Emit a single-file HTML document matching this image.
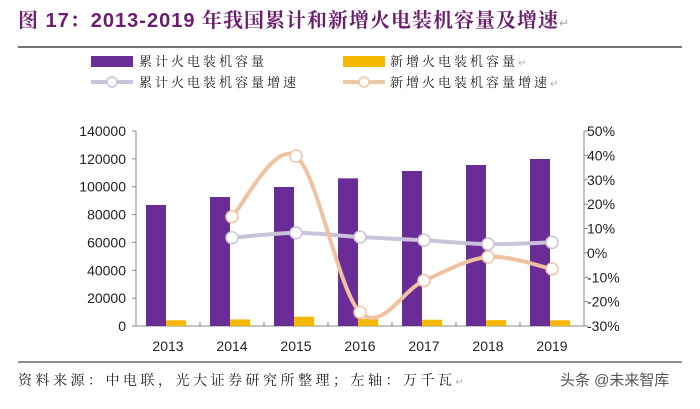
<!DOCTYPE html>
<html><head><meta charset="utf-8"><style>
html,body{margin:0;padding:0;background:#fff;}
body{width:700px;height:404px;overflow:hidden;position:relative;font-family:"Liberation Sans","Noto Sans CJK SC",sans-serif;}
</style></head><body>
<svg width="700" height="404" viewBox="0 0 700 404" xmlns="http://www.w3.org/2000/svg">
<text x="18" y="27" font-size="20" font-weight="bold" fill="#6b1f6e" letter-spacing="1" font-family="Liberation Sans,Noto Serif CJK SC,serif">图 17：2013-2019 年我国累计和新增火电装机容量及增速<tspan fill="#aaa" font-size="12" font-weight="normal">↵</tspan></text>
<line x1="18" y1="47" x2="682" y2="47" stroke="#222" stroke-width="1.2"/>
<g font-size="13" fill="#222" font-family="Noto Serif CJK SC,serif" letter-spacing="3">
<g><rect x="91" y="56" width="42" height="11" fill="#6a2c97"/><text x="139" y="66">累计火电装机容量</text></g>
<g><rect x="343" y="56" width="42" height="11" fill="#f4b800"/><text x="390" y="66">新增火电装机容量<tspan fill="#aaa" font-size="10">↵</tspan></text></g>
<g><line x1="91" y1="82" x2="133" y2="82" stroke="#c9c3d9" stroke-width="4"/><circle cx="112" cy="82" r="5" fill="#fff" stroke="#c9c3d9" stroke-width="1.5"/><text x="139" y="87">累计火电装机容量增速</text></g>
<g><line x1="343" y1="82" x2="385" y2="82" stroke="#efc7a4" stroke-width="4"/><circle cx="364" cy="82" r="5" fill="#fff" stroke="#efc7a4" stroke-width="1.5"/><text x="390" y="87">新增火电装机容量增速<tspan fill="#aaa" font-size="10">↵</tspan></text></g>
</g>
<g id="plot"></g>
<line x1="18" y1="362" x2="682" y2="362" stroke="#222" stroke-width="1"/>
<text x="18" y="385" font-size="14" fill="#222" letter-spacing="3.5" font-family="Noto Serif CJK SC,serif">资料来源：中电联，光大证券研究所整理；左轴：万千瓦<tspan fill="#aaa" font-size="10">↵</tspan></text>
<text x="560" y="385" font-size="15" fill="#555">头条 @未来智库</text>
</svg>
<script>
const years=['2013','2014','2015','2016','2017','2018','2019'];
const cumCap=[86900,92600,99800,106000,111300,115600,119900];
const newCap=[4100,4700,6700,5000,4500,4200,4100];
const cumGrowth=[null,6.2,8.2,6.5,5.2,3.6,4.3];
const newGrowth=[null,14.8,39.7,-24.4,-11.4,-1.7,-6.6];
const leftTicks=[0,20000,40000,60000,80000,100000,120000,140000];
const rightTicks=[-30,-20,-10,0,10,20,30,40,50];

const NS='http://www.w3.org/2000/svg';
const g=document.getElementById('plot');
const X0=136,X1=584,Y0=326,Y1=131;
const cw=(X1-X0)/years.length;
const xc=i=>X0+cw*(i+0.5);
const yL=v=>Y0-(v-0)/(140000)*(Y0-Y1);
const yR=v=>Y0-(v+30)/80*(Y0-Y1);
function mk(t,a){const e=document.createElementNS(NS,t);for(const k in a)e.setAttribute(k,a[k]);g.appendChild(e);return e;}

let e=mk('line',{x1:X0,y1:Y1,x2:X0,y2:Y0,stroke:'#888'});


e=mk('line',{x1:X1,y1:Y1,x2:X1,y2:Y0,stroke:'#888'});


e=mk('line',{x1:X0,y1:Y0,x2:X1,y2:Y0,stroke:'#888'});



leftTicks.forEach(v=>{
  const y=yL(v);
  mk('line',{x1:X0-4,y1:y,x2:X0,y2:y,stroke:'#888'});
  const t=mk('text',{x:X0-10,y:y+5,'text-anchor':'end','font-size':14,fill:'#222'});
  t.textContent=v;
  
  
});
rightTicks.forEach(v=>{
  const y=yR(v);
  mk('line',{x1:X1,y1:y,x2:X1+4,y2:y,stroke:'#888'});
  const t=mk('text',{x:X1+3,y:y+5,'font-size':14,fill:'#222'});
  t.textContent=v+'%';
  
  
});
years.forEach((yr,i)=>{
  mk('line',{x1:X0+cw*(i+1),y1:Y0,x2:X0+cw*(i+1),y2:Y0-4,stroke:'#888'});
  const t=mk('text',{x:xc(i),y:351,'text-anchor':'middle','font-size':14,fill:'#222'});
  t.textContent=yr;
  
  
  const b=mk('rect',{x:xc(i)-22,y:yL(cumCap[i]),width:20,height:Y0-yL(cumCap[i]),fill:'#6a2c97'});
  
  
  const n=mk('rect',{x:xc(i)-2,y:yL(newCap[i]),width:20,height:Y0-yL(newCap[i]),fill:'#f4b800'});
  
  
});
function smooth(pts){
  let d='M'+pts[0][0]+','+pts[0][1];
  for(let i=0;i<pts.length-1;i++){
    const p0=pts[i-1]||pts[i],p1=pts[i],p2=pts[i+1],p3=pts[i+2]||p2;
    const c1=[p1[0]+(p2[0]-p0[0])/6,p1[1]+(p2[1]-p0[1])/6];
    const c2=[p2[0]-(p3[0]-p1[0])/6,p2[1]-(p3[1]-p1[1])/6];
    d+=' C'+c1+' '+c2+' '+p2;
  }
  return d;
}
function series(vals,color,name){
  const pts=[];vals.forEach((v,i)=>{if(v!==null)pts.push([xc(i),yR(v)]);});
  const p=mk('path',{d:smooth(pts),fill:'none',stroke:color,'stroke-width':4});
  
  
  pts.forEach(q=>{
    const c=mk('circle',{cx:q[0],cy:q[1],r:6,fill:'#fff',stroke:color,'stroke-width':1.5});
    
    
  });
}
series(cumGrowth,'#c9c3d9','cumulative-growth');
series(newGrowth,'#efc2a0','new-growth');
</script>
</body></html>
